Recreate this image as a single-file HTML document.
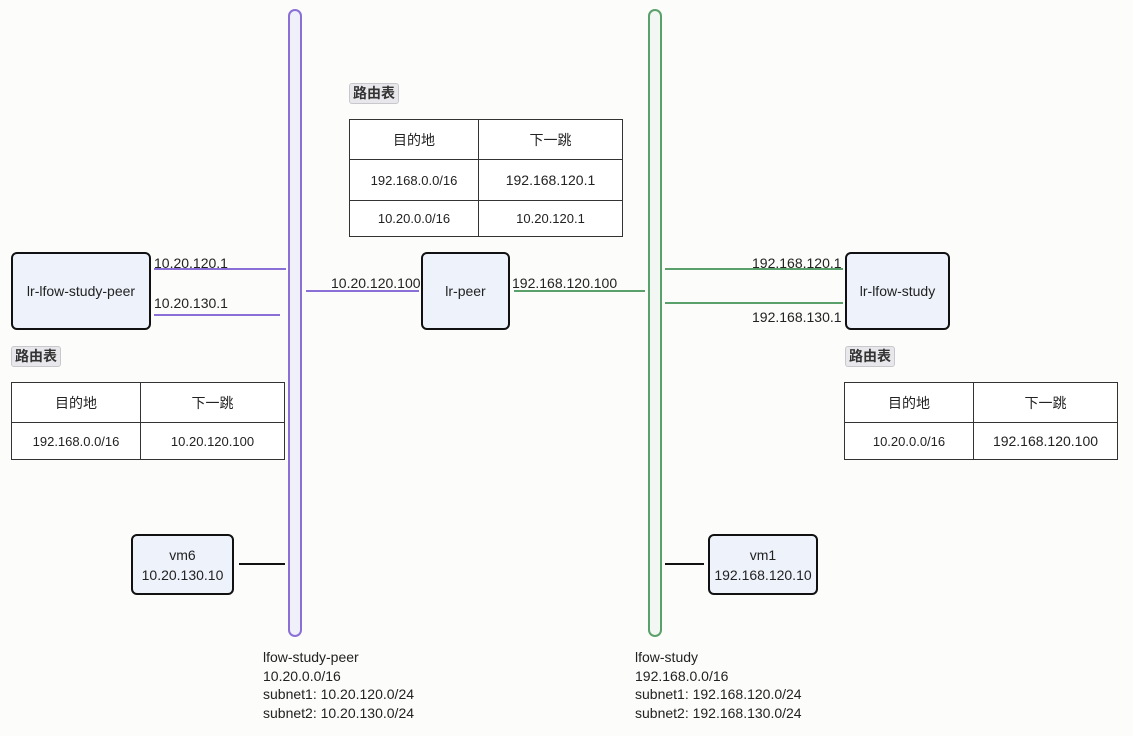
<!DOCTYPE html>
<html><head><meta charset="utf-8"><style>
body{margin:0;width:1133px;height:736px;background:#fcfcfa;position:relative;overflow:hidden;font-family:"Liberation Sans","Noto Sans CJK SC",sans-serif;color:#222}
.node{position:absolute;border:2px solid #111;border-radius:6px;background:#eef2fb;display:flex;align-items:center;justify-content:center;text-align:center;font-size:14px;box-sizing:border-box;line-height:20px}
.bar{position:absolute;border-radius:7px;box-sizing:border-box;background:#f0f0fa}
.ln{position:absolute;height:2px}
.tag{position:absolute;background:#e8e8ec;border:1px solid #c8c8cc;border-radius:3px;font-size:14px;font-weight:bold;padding:0 3px;line-height:19px;color:#333}
table{position:absolute;border-collapse:collapse;font-size:14px;background:#fff}
td{border:1px solid #333;text-align:center;padding:0}
.lb{position:absolute;font-size:14px;line-height:16px}
.bt{position:absolute;font-size:14px;line-height:18.6px}
</style></head><body>
<div class="bar" style="left:288px;top:9px;width:14px;height:628px;border:2px solid #8a6fd6"></div>
<div class="bar" style="left:648px;top:9px;width:14px;height:628px;border:2px solid #5aa06a;background:#f3f7f3"></div>

<div class="ln" style="left:154px;top:268px;width:132px;background:#8a6fd6"></div>
<div class="ln" style="left:154px;top:314px;width:126px;background:#8a6fd6"></div>
<div class="ln" style="left:306px;top:290px;width:113px;background:#8a6fd6"></div>
<div class="ln" style="left:514px;top:290px;width:131px;background:#5aa06a"></div>
<div class="ln" style="left:665px;top:268px;width:178px;background:#5aa06a"></div>
<div class="ln" style="left:665px;top:302px;width:178px;background:#5aa06a"></div>
<div class="ln" style="left:239px;top:563px;width:46px;background:#111"></div>
<div class="ln" style="left:665px;top:563px;width:39px;background:#111"></div>

<div class="node" style="left:11px;top:252px;width:140px;height:78px">lr-lfow-study-peer</div>
<div class="node" style="left:421px;top:252px;width:89px;height:78px">lr-peer</div>
<div class="node" style="left:845px;top:252px;width:105px;height:78px">lr-lfow-study</div>
<div class="node" style="left:131px;top:534px;width:103px;height:61px">vm6<br>10.20.130.10</div>
<div class="node" style="left:708px;top:534px;width:110px;height:61px">vm1<br>192.168.120.10</div>

<div class="lb" style="left:154px;top:255px">10.20.120.1</div>
<div class="lb" style="left:154px;top:295px">10.20.130.1</div>
<div class="lb" style="left:331px;top:275px">10.20.120.100</div>
<div class="lb" style="left:512px;top:275px">192.168.120.100</div>
<div class="lb" style="left:752px;top:255px">192.168.120.1</div>
<div class="lb" style="left:752px;top:309px">192.168.130.1</div>

<div class="tag" style="left:349px;top:83px">路由表</div>
<div class="tag" style="left:11px;top:346px">路由表</div>
<div class="tag" style="left:845px;top:346px">路由表</div>

<table style="left:349px;top:119px;width:274px">
<tr style="height:40px"><td style="width:128px">目的地</td><td>下一跳</td></tr>
<tr style="height:41px"><td style="font-size:13px">192.168.0.0/16</td><td>192.168.120.1</td></tr>
<tr style="height:36px"><td style="font-size:13px">10.20.0.0/16</td><td style="font-size:13px">10.20.120.1</td></tr>
</table>
<table style="left:11px;top:382px;width:274px">
<tr style="height:40px"><td style="width:128px">目的地</td><td>下一跳</td></tr>
<tr style="height:37px"><td style="font-size:13px">192.168.0.0/16</td><td style="font-size:13px">10.20.120.100</td></tr>
</table>
<table style="left:844px;top:382px;width:274px">
<tr style="height:40px"><td style="width:128px">目的地</td><td>下一跳</td></tr>
<tr style="height:37px"><td style="font-size:13px">10.20.0.0/16</td><td>192.168.120.100</td></tr>
</table>

<div class="bt" style="left:263px;top:648px">lfow-study-peer<br>10.20.0.0/16<br>subnet1: 10.20.120.0/24<br>subnet2: 10.20.130.0/24</div>
<div class="bt" style="left:635px;top:648px">lfow-study<br>192.168.0.0/16<br>subnet1: 192.168.120.0/24<br>subnet2: 192.168.130.0/24</div>
</body></html>
